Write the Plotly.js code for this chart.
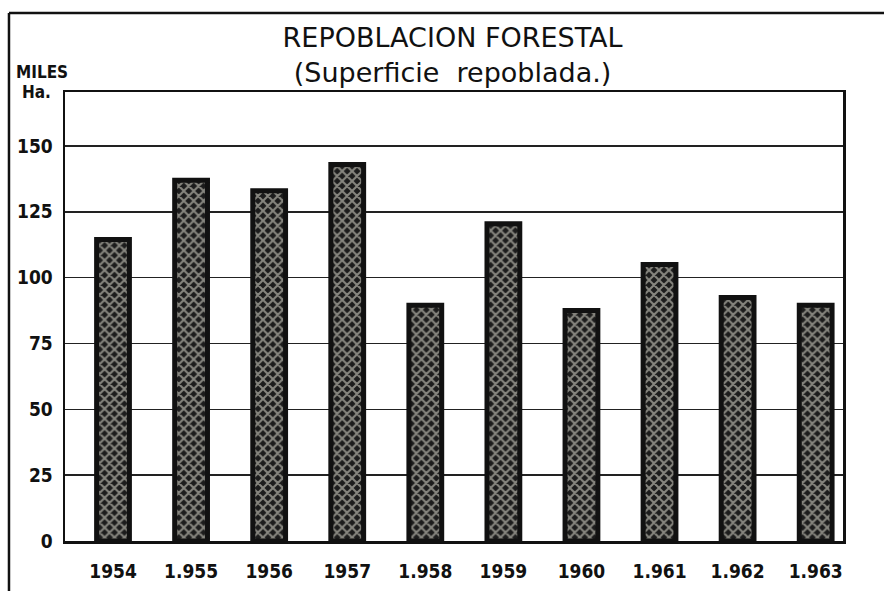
<!DOCTYPE html>
<html>
<head>
<meta charset="utf-8">
<script src="https://cdn.plot.ly/plotly-3.0.1.min.js"></script>
<style>html,body{margin:0;padding:0;background:#fff;}#chart{width:884px;height:591px;}</style>
</head>
<body>
<div id="chart"></div>
<script>
// Data
const years = ['1954', '1.955', '1956', '1957', '1.958', '1959', '1960', '1.961', '1.962', '1.963'];
const superficie = [114.5, 137, 133, 143, 89.5, 120.5, 87.5, 105, 92.5, 89.5];
const yTicks = [0, 25, 50, 75, 100, 125, 150];

const trace = {
  type: 'bar',
  x: years,
  y: superficie,
  width: 0.42,
  marker: {
    color: '#1c1c1c',
    line: {color: '#111', width: 5},
    pattern: {shape: 'x', bgcolor: '#1c1c1c', fgcolor: '#f2f0e2', size: 7, solidity: 0.5, fillmode: 'overlay'}
  },
  hoverinfo: 'x+y'
};

const tickFont = {family: '"DejaVu Sans Condensed", "Liberation Sans Narrow", "DejaVu Sans", sans-serif', size: 19, color: '#111', weight: 'bold'};
const unitFont = {family: '"DejaVu Sans Condensed", "Liberation Sans Narrow", sans-serif', size: 17, color: '#111', weight: 'bold'};

const layout = {
  width: 884, height: 591,
  margin: {l: 65, r: 41, t: 92, b: 50},
  paper_bgcolor: '#fff', plot_bgcolor: '#fff',
  showlegend: false,
  title: {
    text: 'REPOBLACION FORESTAL<br>(Superficie&nbsp; repoblada.)',
    font: {family: '"DejaVu Sans", sans-serif', size: 27, color: '#111'},
    x: 0.512, xanchor: 'center', xref: 'container',
    y: 0.92, yanchor: 'middle', yref: 'container'
  },
  xaxis: {
    type: 'category',
    range: [-0.615, 9.35],
    showgrid: false, zeroline: false,
    showline: true, mirror: true, linecolor: '#111', linewidth: 2.5,
    ticks: '', tickfont: tickFont, ticklabelstandoff: 12
  },
  yaxis: {
    range: [0, 170.5],
    tickvals: yTicks, ticktext: yTicks.map(String),
    showgrid: true, gridcolor: '#222', gridwidth: 1.5,
    zeroline: false,
    showline: true, mirror: true, linecolor: '#111', linewidth: 2.5,
    ticks: '', tickfont: tickFont, ticklabelstandoff: 6
  },
  annotations: [
    {text: 'MILES', xref: 'paper', yref: 'paper', x: -0.0296, y: 1.045, xanchor: 'center', yanchor: 'middle', showarrow: false, font: unitFont},
    {text: 'Ha.', xref: 'paper', yref: 'paper', x: -0.037, y: 0.999, xanchor: 'center', yanchor: 'middle', showarrow: false, font: unitFont}
  ],
  shapes: [
    {type: 'line', xref: 'paper', yref: 'paper', x0: -0.072, x1: 1.06, y0: 1.176, y1: 1.176, line: {color: '#111', width: 2.5}},
    {type: 'line', xref: 'paper', yref: 'paper', x0: -0.072, x1: -0.072, y0: 1.176, y1: -0.12, line: {color: '#111', width: 2.5}}
  ]
};

Plotly.newPlot('chart', [trace], layout, {displayModeBar: false, staticPlot: true});
</script>
</body>
</html>
